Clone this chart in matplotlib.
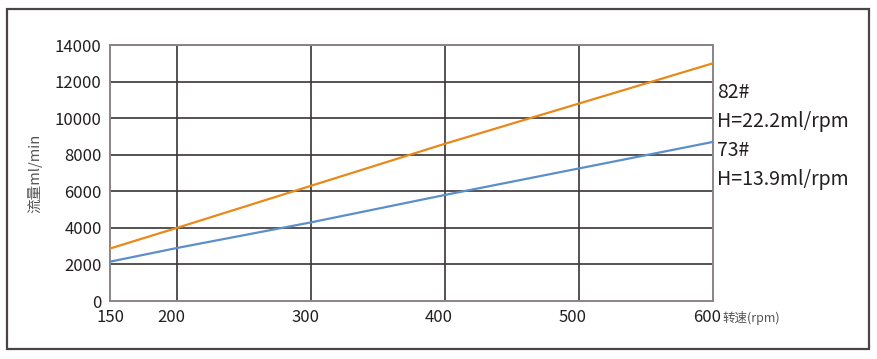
import matplotlib
matplotlib.use("Agg")
import matplotlib.pyplot as plt
from matplotlib.patches import Rectangle
from matplotlib.transforms import ScaledTranslation

plt.rcParams['font.family'] = ['Noto Sans CJK SC', 'DejaVu Sans']

# data
rpm = [150, 200, 300, 400, 500, 600]
flow_82 = [2870, 4000, 6300, 8600, 10800, 13000]
flow_73 = [2150, 2900, 4300, 5800, 7250, 8700]
x_ticks = [150, 200, 300, 400, 500, 600]
y_ticks = [0, 2000, 4000, 6000, 8000, 10000, 12000, 14000]
labels = ["82#", "H=22.2ml/rpm", "73#", "H=13.9ml/rpm"]

fig = plt.figure(figsize=(8.78, 3.59), dpi=100)
ax = fig.add_axes([110 / 878, 1 - 301 / 359, 603 / 878, 256 / 359])

# outer frame
fig.patches.append(Rectangle((7 / 878, 1 - 349 / 359), 862 / 878, 340 / 359,
                             transform=fig.transFigure, fill=False,
                             edgecolor='#4a4444', linewidth=1.6))

grid_c = '#3b3535'
for y in y_ticks[1:]:
    ax.axhline(y, color=grid_c, linewidth=1.2, zorder=1)
for x in x_ticks[1:-1]:
    ax.axvline(x, color=grid_c, linewidth=1.2, zorder=1)

ax.plot(rpm, flow_82, color='#e8891a', linewidth=1.6, zorder=3)
ax.plot(rpm, flow_73, color='#5b8fcb', linewidth=1.6, zorder=3)

ax.set_xlim(150, 600)
ax.set_ylim(0, 14000)
ax.set_xticks(x_ticks)
ax.set_yticks(y_ticks)
ax.tick_params(length=0, labelsize=12, colors='#231f20')
ax.tick_params(axis='x', pad=6)
ax.tick_params(axis='y', pad=6)
for s in ax.spines.values():
    s.set_color('#8a8484')
    s.set_linewidth(1.4)

# x tick labels sit a little left of their grid lines
shift = ScaledTranslation(-6 / 100, 0, fig.dpi_scale_trans)
for lab in ax.get_xticklabels()[1:]:
    lab.set_transform(lab.get_transform() + shift)

ax.set_ylabel("流量ml/min", fontsize=10.5, color='#555', labelpad=9)

fig.text(722 / 878, 1 - 318 / 359, "转速(rpm)", fontsize=9, color='#555',
         va='center', ha='left')

ys = [92, 121, 150, 179]
for t, y in zip(labels, ys):
    fig.text(717 / 878, 1 - y / 359, t, fontsize=14, color='#231f20',
             va='center', ha='left')

fig.savefig("out.png", dpi=100)
